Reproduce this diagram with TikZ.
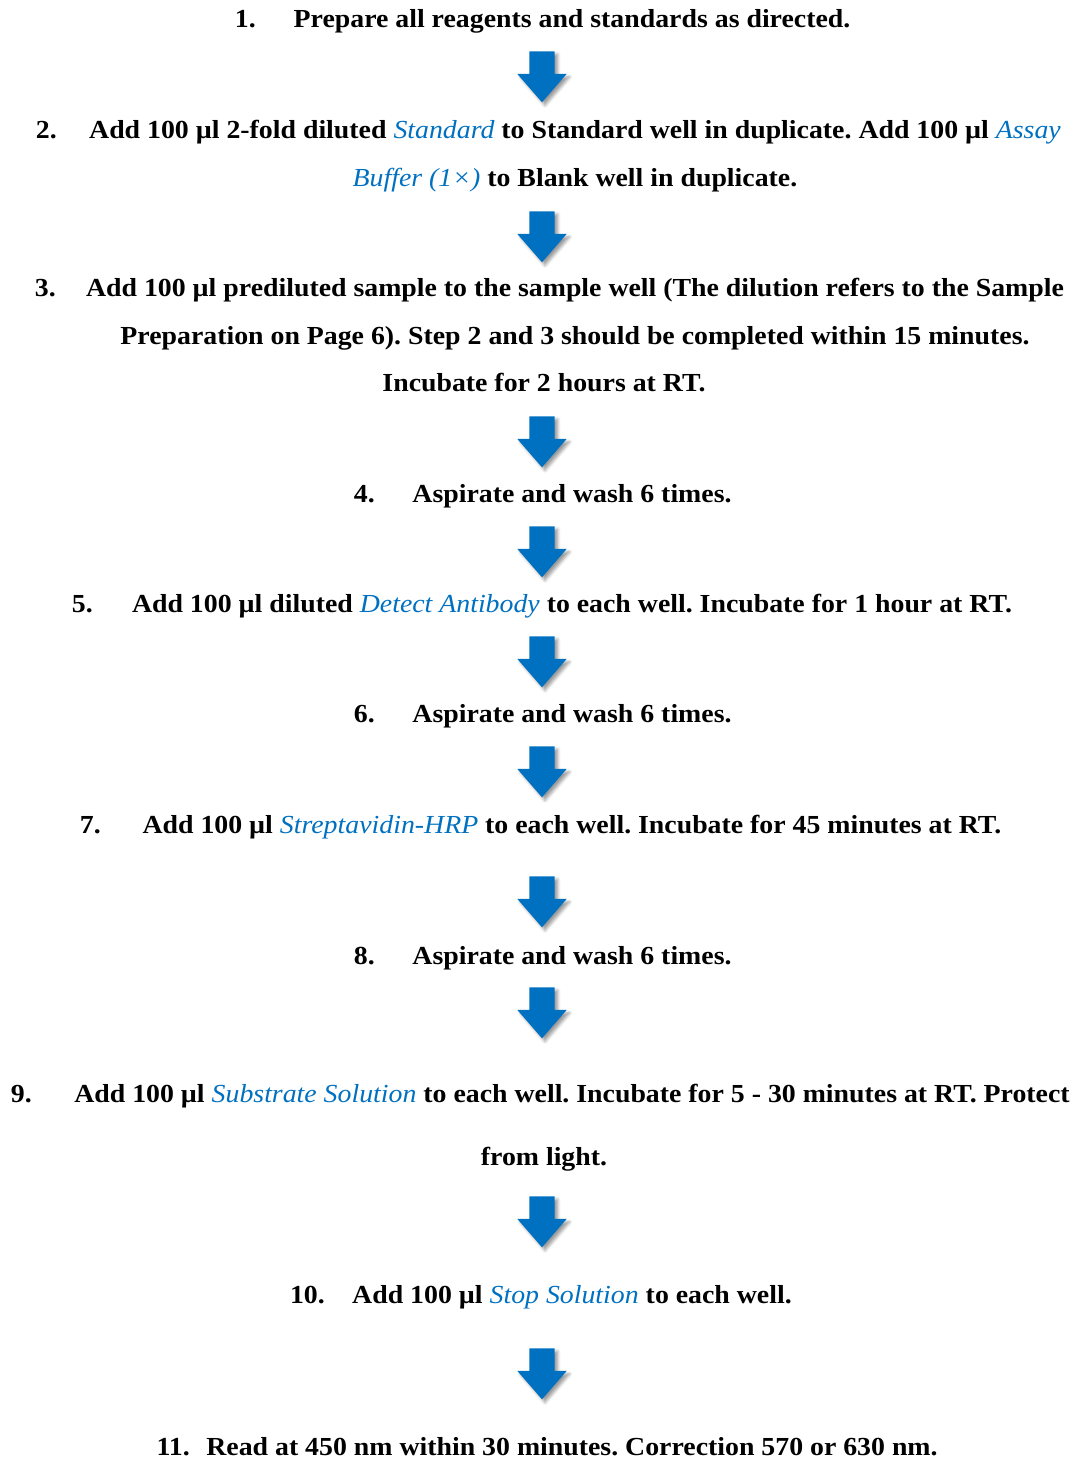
\documentclass[tikz,border=0pt]{standalone}
\usepackage{fontspec}
\setmainfont[FakeStretch=1.07]{Liberation Serif}
\usetikzlibrary{shapes.arrows}
\usetikzlibrary{shadows.blur}
\definecolor{stdblue}{HTML}{0070C0}
\newcommand{\reag}[1]{{\color{stdblue}\mdseries\itshape #1}}
\tikzset{
  txtline/.style={anchor=base,inner sep=0pt,font=\fontsize{26}{30}\selectfont\bfseries\frenchspacing},
  numline/.style={anchor=base east,inner sep=0pt,font=\fontsize{26}{30}\selectfont\bfseries},
  blarrow/.style={single arrow,shape border rotate=270,fill=stdblue,draw=none,
    minimum height=51pt,minimum width=49pt,inner sep=12.5pt,
    single arrow head extend=12pt,single arrow tip angle=82,
    blur shadow={shadow xshift=3pt,shadow yshift=-3pt,shadow blur radius=3pt,shadow opacity=40}}
}

\begin{document}
\begin{tikzpicture}[x=1pt,y=-1pt]
  \useasboundingbox (0,0) rectangle (1084,1459);
  % steps
  \node (n1)  at (256,27)  [numline] {1.};
  \node (t1)  at (572,27)  [txtline] {Prepare all reagents and standards as directed.};
  \node (n2)  at (57,138)  [numline] {2.};
  \node (t2a) at (575,138) [txtline] {Add 100 µl 2-fold diluted \reag{Standard} to Standard well in duplicate. Add 100 µl \reag{Assay}};
  \node (t2b) at (575,186) [txtline] {\reag{Buffer (1×)} to Blank well in duplicate.};
  \node (n3)  at (56,296)  [numline] {3.};
  \node (t3a) at (575,296) [txtline] {Add 100 µl prediluted sample to the sample well (The dilution refers to the Sample};
  \node (t3b) at (575,344) [txtline] {Preparation on Page 6). Step 2 and 3 should be completed within 15 minutes.};
  \node (t3c) at (544,391) [txtline] {Incubate for 2 hours at RT.};
  \node (n4)  at (375,502) [numline] {4.};
  \node (t4)  at (572,502) [txtline] {Aspirate and wash 6 times.};
  \node (n5)  at (93,612)  [numline] {5.};
  \node (t5)  at (572,612) [txtline] {Add 100 µl diluted \reag{Detect Antibody} to each well. Incubate for 1 hour at RT.};
  \node (n6)  at (375,722) [numline] {6.};
  \node (t6)  at (572,722) [txtline] {Aspirate and wash 6 times.};
  \node (n7)  at (101,833) [numline] {7.};
  \node (t7)  at (572,833) [txtline] {Add 100 µl \reag{Streptavidin-HRP} to each well. Incubate for 45 minutes at RT.};
  \node (n8)  at (375,964) [numline] {8.};
  \node (t8)  at (572,964) [txtline] {Aspirate and wash 6 times.};
  \node (n9)  at (32,1102) [numline] {9.};
  \node (t9a) at (572,1102) [txtline] {Add 100 µl \reag{Substrate Solution} to each well. Incubate for 5 - 30 minutes at RT. Protect};
  \node (t9b) at (544,1165) [txtline] {from light.};
  \node (n10) at (325,1303) [numline] {10.};
  \node (t10) at (572,1303) [txtline] {Add 100 µl \reag{Stop Solution} to each well.};
  \node (n11) at (190,1455) [numline] {11.};
  \node (t11) at (572,1455) [txtline] {Read at 450 nm within 30 minutes. Correction 570 or 630 nm.};
  % arrows between steps
  \foreach \i/\y in {1/69.5,2/229.5,3/434.5,4/544.5,5/654.5,6/764.5,7/894.5,8/1005.5,9/1214.5,10/1366.5}
    \node (ar\i) at (542,\y) [blarrow] {};
\end{tikzpicture}
\end{document}
